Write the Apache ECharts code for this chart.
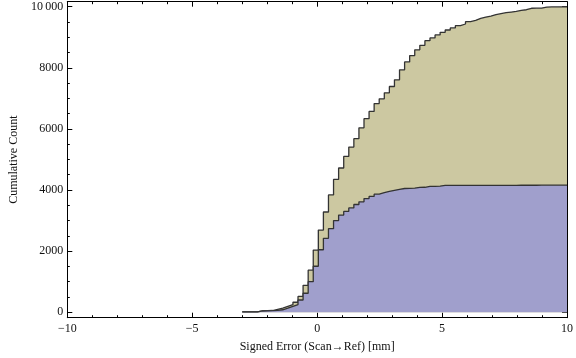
<!DOCTYPE html>
<html><head><meta charset="utf-8">
<script src="https://cdn.jsdelivr.net/npm/echarts@6/dist/echarts.min.js"></script>
<style>html,body{margin:0;padding:0;background:#fff}#c{width:576px;height:358px}</style>
</head><body><div id="c"></div>
<script>
// 64 equal bins from -3 to 10 (left edges + final right edge)
const binEdges = [-3,-2.797,-2.594,-2.391,-2.188,-1.984,-1.781,-1.578,-1.375,-1.172,
  -0.969,-0.766,-0.563,-0.359,-0.156,0.047,0.25,0.453,0.656,0.859,
  1.063,1.266,1.469,1.672,1.875,2.078,2.281,2.484,2.688,2.891,
  3.094,3.297,3.5,3.703,3.906,4.109,4.313,4.516,4.719,4.922,
  5.125,5.328,5.531,5.734,5.938,6.141,6.344,6.547,6.75,6.953,
  7.156,7.359,7.563,7.766,7.969,8.172,8.375,8.578,8.781,8.984,
  9.188,9.391,9.594,9.797,10];
const totalCounts = [10,10,10,45,50,55,95,130,190,248,
  326,515,880,1375,2034,2687,3280,3840,4348,4721,
  5100,5407,5681,6035,6334,6573,6830,6987,7183,7389,
  7608,7934,8195,8401,8590,8737,8890,8978,9076,9163,
  9239,9305,9380,9435,9511,9554,9619,9663,9696,9739,
  9772,9804,9827,9847,9880,9902,9950,9952,9955,9990,
  9993,9995,9998,10000];
const subsetCounts = [10,10,10,40,45,50,60,80,130,190,
  250,400,620,1000,1505,2045,2420,2736,3000,3180,
  3300,3415,3526,3615,3720,3790,3865,3915,3957,3990,
  4022,4050,4055,4060,4088,4090,4120,4122,4125,4150,
  4151,4152,4152,4153,4153,4153,4154,4154,4154,4154,
  4155,4155,4155,4155,4156,4156,4156,4156,4157,4157,
  4157,4157,4158,4158];
const xTickLabels = [-10,-5,0,5,10];
const yTickLabels = [0,2000,4000,6000,8000,10000];
const yMinorTicks = [500,1000,1500,2500,3000,3500,4500,5000,5500,6500,7000,7500,8500,9000,9500];

function toSteps(counts){
  const d = counts.map((c,i)=>[binEdges[i], c]);
  d.push([binEdges[binEdges.length-1], counts[counts.length-1]]);
  return d;
}
const FONT = 'Liberation Serif';
const txt = {color:'#111', fontFamily:FONT, fontSize:12};
const YMIN = -180, YMAX = 10165;

function xAx(pos, labels){
  return {type:'value', min:-10, max:10, interval:5, position:pos,
    axisLine:{show:true, onZero:false, lineStyle:{color:'#000', width:1}},
    axisTick:{show:true, inside:true, length:5, lineStyle:{color:'#000'}},
    minorTick:{show:true, splitNumber:5, length:2.5, lineStyle:{color:'#000'}},
    splitLine:{show:false}, minorSplitLine:{show:false},
    axisLabel: labels ? Object.assign({show:true, margin:5,
      customValues: xTickLabels,
      formatter: v => String(v).replace('-', '\u2212')}, txt) : {show:false}
  };
}
function yAx(pos, ticks, len, line, labels){
  return {type:'value', min:YMIN, max:YMAX, position:pos,
    axisLine:{show:line, onZero:false, lineStyle:{color:'#000', width:1}},
    axisTick:{show:true, inside:true, length:len, customValues: ticks, lineStyle:{color:'#000'}},
    splitLine:{show:false},
    axisLabel: labels ? Object.assign({show:true, margin:4, customValues: ticks,
      formatter: v => v === 10000 ? '10\u2009000' : String(v)}, txt) : {show:false}
  };
}
const xa0 = xAx('bottom', true);
xa0.name = 'Signed Error (Scan\u2192Ref) [mm]';
xa0.nameLocation = 'middle';
xa0.nameGap = 23;
xa0.nameTextStyle = txt;
const ya0 = yAx('left', yTickLabels, 5, true, true);
ya0.name = 'Cumulative Count';
ya0.nameLocation = 'middle';
ya0.nameGap = 43;
ya0.nameRotate = 90;
ya0.nameTextStyle = txt;

const chart = echarts.init(document.getElementById('c'), null, {renderer:'canvas'});
chart.setOption({
  animation:false,
  backgroundColor:'#fff',
  grid:{left:56.7, right:6.7, top:1.7, bottom:40.3},
  xAxis:[xa0, xAx('top', false)],
  yAxis:[ya0,
    yAx('left', yMinorTicks, 2.5, false, false),
    yAx('right', yTickLabels, 5, true, false),
    yAx('right', yMinorTicks, 2.5, false, false)],
  series:[
    {type:'line', step:'end', data:toSteps(totalCounts), symbol:'none', showSymbol:false,
     xAxisIndex:0, yAxisIndex:0, z:2,
     lineStyle:{color:'#333', width:1.3}, areaStyle:{color:'#ccc8a1', opacity:1}},
    {type:'line', step:'end', data:toSteps(subsetCounts), symbol:'none', showSymbol:false,
     xAxisIndex:0, yAxisIndex:0, z:3,
     lineStyle:{color:'#333', width:1.3}, areaStyle:{color:'#a09fcc', opacity:1}}
  ]
});
</script></body></html>
